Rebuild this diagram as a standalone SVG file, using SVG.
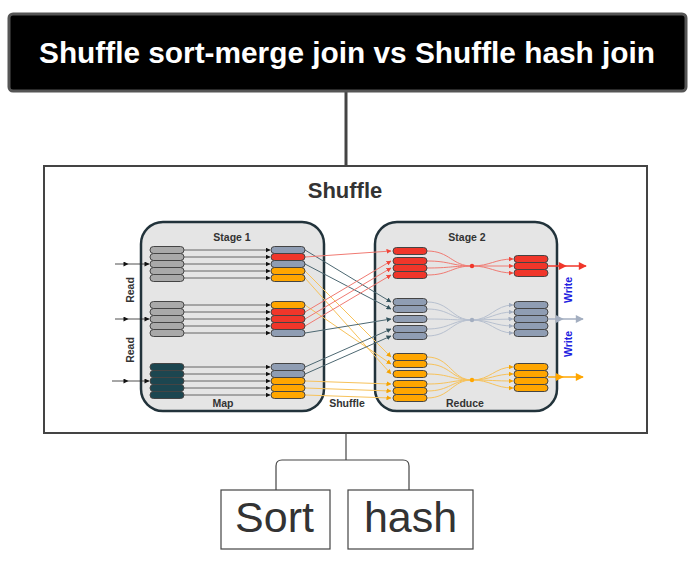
<svg xmlns="http://www.w3.org/2000/svg" width="696" height="562" viewBox="0 0 696 562">
<style>
.t{font-family:"Liberation Sans",Arial,sans-serif}
.b{font-weight:bold}
.pill{stroke:#444;stroke-width:1}
.lg{fill:#a9a9a9}.tl{fill:#1c4650}.gb{fill:#8f9db3}.rd{fill:#f0362a}.or{fill:#ffa600}
.st{fill:#e5e5e5;stroke:#22333b;stroke-width:2.5}
.sm{font-family:"Liberation Sans",Arial,sans-serif;font-weight:bold;font-size:10.5px;fill:#333}
.in{stroke:#444;stroke-width:0.8;fill:none;marker-end:url(#ak)}
.rl{stroke:#f07a72;stroke-width:1;fill:none;marker-end:url(#ar)}
.gl{stroke:#4d6872;stroke-width:1;fill:none;marker-end:url(#ag)}
.ol{stroke:#f7c25a;stroke-width:1;fill:none;marker-end:url(#ao)}
.gl2{stroke:#b7c0cf;stroke-width:1;fill:none;marker-end:url(#ag2)}
.conn{stroke:#444;fill:none}
</style>
<defs>
<marker id="ak" viewBox="0 0 10 10" refX="9" refY="5" markerWidth="5" markerHeight="5" orient="auto" markerUnits="userSpaceOnUse"><path d="M0,0 L10,5 L0,10 z" fill="#111"/></marker>
<marker id="ar" viewBox="0 0 10 10" refX="9" refY="5" markerWidth="5" markerHeight="5" orient="auto" markerUnits="userSpaceOnUse"><path d="M0,0 L10,5 L0,10 z" fill="#f0463a"/></marker>
<marker id="ag" viewBox="0 0 10 10" refX="9" refY="5" markerWidth="5" markerHeight="5" orient="auto" markerUnits="userSpaceOnUse"><path d="M0,0 L10,5 L0,10 z" fill="#33525c"/></marker>
<marker id="ag2" viewBox="0 0 10 10" refX="9" refY="5" markerWidth="5" markerHeight="5" orient="auto" markerUnits="userSpaceOnUse"><path d="M0,0 L10,5 L0,10 z" fill="#a3aec0"/></marker>
<marker id="ao" viewBox="0 0 10 10" refX="9" refY="5" markerWidth="5" markerHeight="5" orient="auto" markerUnits="userSpaceOnUse"><path d="M0,0 L10,5 L0,10 z" fill="#f5a300"/></marker>
<marker id="rbig" viewBox="0 0 10 10" refX="9" refY="5" markerWidth="9" markerHeight="8" orient="auto" markerUnits="userSpaceOnUse"><path d="M0,0 L10,5 L0,10 z" fill="#f0362a"/></marker>
<marker id="gbig" viewBox="0 0 10 10" refX="9" refY="5" markerWidth="9" markerHeight="8" orient="auto" markerUnits="userSpaceOnUse"><path d="M0,0 L10,5 L0,10 z" fill="#a3aec0"/></marker>
<marker id="obig" viewBox="0 0 10 10" refX="9" refY="5" markerWidth="9" markerHeight="8" orient="auto" markerUnits="userSpaceOnUse"><path d="M0,0 L10,5 L0,10 z" fill="#ffa600"/></marker>
<marker id="kbig" viewBox="0 0 10 10" refX="9" refY="5" markerWidth="7" markerHeight="5" orient="auto" markerUnits="userSpaceOnUse"><path d="M0,0 L10,5 L0,10 z" fill="#111"/></marker>
</defs>

<g id="connectors">
<line class="conn" x1="346" y1="91" x2="346" y2="166" stroke-width="3"/>
<line class="conn" x1="346" y1="433" x2="346" y2="460" stroke-width="1.2"/>
<path class="conn" stroke-width="1.2" d="M276,490 V466 Q276,460 282,460 H403 Q409,460 409,466 V490"/>
</g>

<g id="title">
<rect x="9" y="14" width="677" height="77" rx="4" fill="#000" stroke="#555" stroke-width="3"/>
<text class="t b" x="347" y="63" font-size="29.5" fill="#fff" text-anchor="middle" textLength="616" lengthAdjust="spacingAndGlyphs">Shuffle sort-merge join vs Shuffle hash join</text>
</g>

<g id="shuffle">
<rect x="44" y="166" width="603" height="267" fill="#fff" stroke="#444" stroke-width="2"/>
<text class="t b" x="345" y="198" font-size="22" fill="#333" text-anchor="middle">Shuffle</text>

<rect class="st" x="141" y="222" width="183" height="189" rx="22"/>
<rect class="st" x="375" y="222" width="182" height="189" rx="22"/>
<text class="sm" x="232" y="241" text-anchor="middle">Stage 1</text>
<text class="sm" x="467" y="241" text-anchor="middle">Stage 2</text>
<text class="sm" x="223" y="407" text-anchor="middle" font-size="11">Map</text>
<text class="sm" x="347" y="407" text-anchor="middle" font-size="11">Shuffle</text>
<text class="sm" x="465" y="407" text-anchor="middle" font-size="11">Reduce</text>
<text class="sm" transform="translate(134,290) rotate(-90)" text-anchor="middle">Read</text>
<text class="sm" transform="translate(134,350) rotate(-90)" text-anchor="middle">Read</text>
<text class="sm" transform="translate(572,290) rotate(-90)" text-anchor="middle" style="fill:#2020e0">Write</text>
<text class="sm" transform="translate(572,344) rotate(-90)" text-anchor="middle" style="fill:#2020e0">Write</text>

<!-- input arrows -->
<path d="M115,264 L128,264 L149,264" stroke="#222" stroke-width="0.8" fill="none" marker-mid="url(#kbig)" marker-end="url(#kbig)"/>
<path d="M115,319 L128,319 L149,319" stroke="#222" stroke-width="0.8" fill="none" marker-mid="url(#kbig)" marker-end="url(#kbig)"/>
<path d="M112,381 L128,381 L149,381" stroke="#222" stroke-width="0.8" fill="none" marker-mid="url(#kbig)" marker-end="url(#kbig)"/>

<!-- stage 1 map arrows -->
<g>
<line class="in" x1="184" y1="250" x2="270" y2="250"/><line class="in" x1="184" y1="257" x2="270" y2="257"/><line class="in" x1="184" y1="264" x2="270" y2="264"/><line class="in" x1="184" y1="271" x2="270" y2="271"/><line class="in" x1="184" y1="278" x2="270" y2="278"/>
<line class="in" x1="184" y1="305" x2="270" y2="305"/><line class="in" x1="184" y1="312" x2="270" y2="312"/><line class="in" x1="184" y1="319" x2="270" y2="319"/><line class="in" x1="184" y1="326" x2="270" y2="326"/><line class="in" x1="184" y1="333" x2="270" y2="333"/>
<line class="in" x1="184" y1="367" x2="270" y2="367"/><line class="in" x1="184" y1="374" x2="270" y2="374"/><line class="in" x1="184" y1="381" x2="270" y2="381"/><line class="in" x1="184" y1="388" x2="270" y2="388"/><line class="in" x1="184" y1="395" x2="270" y2="395"/>
</g>

<!-- stage 1 left pills -->
<g class="pill">
<rect class="lg" x="150" y="246.5" width="34" height="7" rx="3.5"/><rect class="lg" x="150" y="253.5" width="34" height="7" rx="3.5"/><rect class="lg" x="150" y="260.5" width="34" height="7" rx="3.5"/><rect class="lg" x="150" y="267.5" width="34" height="7" rx="3.5"/><rect class="lg" x="150" y="274.5" width="34" height="7" rx="3.5"/>
<rect class="lg" x="150" y="301.5" width="34" height="7" rx="3.5"/><rect class="lg" x="150" y="308.5" width="34" height="7" rx="3.5"/><rect class="lg" x="150" y="315.5" width="34" height="7" rx="3.5"/><rect class="lg" x="150" y="322.5" width="34" height="7" rx="3.5"/><rect class="lg" x="150" y="329.5" width="34" height="7" rx="3.5"/>
<rect class="tl" x="150" y="363.5" width="34" height="7" rx="3.5"/><rect class="tl" x="150" y="370.5" width="34" height="7" rx="3.5"/><rect class="tl" x="150" y="377.5" width="34" height="7" rx="3.5"/><rect class="tl" x="150" y="384.5" width="34" height="7" rx="3.5"/><rect class="tl" x="150" y="391.5" width="34" height="7" rx="3.5"/>
</g>

<!-- shuffle lines -->
<g>
<line class="gl" x1="305" y1="250" x2="391" y2="302"/>
<line class="rl" x1="305" y1="257" x2="391" y2="251"/>
<line class="gl" x1="305" y1="264" x2="391" y2="309"/>
<line class="ol" x1="305" y1="271" x2="391" y2="357"/>
<line class="ol" x1="305" y1="278" x2="391" y2="374"/>
<line class="ol" x1="305" y1="305" x2="391" y2="364"/>
<line class="rl" x1="305" y1="312" x2="391" y2="261"/>
<line class="rl" x1="305" y1="319" x2="391" y2="268"/>
<line class="rl" x1="305" y1="326" x2="391" y2="275"/>
<line class="gl" x1="305" y1="333" x2="391" y2="319"/>
<line class="gl" x1="305" y1="367" x2="391" y2="329"/>
<line class="gl" x1="305" y1="374" x2="391" y2="336"/>
<line class="ol" x1="305" y1="381" x2="391" y2="384"/>
<line class="ol" x1="305" y1="388" x2="391" y2="391"/>
<line class="ol" x1="305" y1="395" x2="391" y2="398"/>
</g>

<!-- stage 1 right pills -->
<g class="pill">
<rect class="gb" x="271" y="246.5" width="34" height="7" rx="3.5"/><rect class="rd" x="271" y="253.5" width="34" height="7" rx="3.5"/><rect class="gb" x="271" y="260.5" width="34" height="7" rx="3.5"/><rect class="or" x="271" y="267.5" width="34" height="7" rx="3.5"/><rect class="or" x="271" y="274.5" width="34" height="7" rx="3.5"/>
<rect class="or" x="271" y="301.5" width="34" height="7" rx="3.5"/><rect class="rd" x="271" y="308.5" width="34" height="7" rx="3.5"/><rect class="rd" x="271" y="315.5" width="34" height="7" rx="3.5"/><rect class="rd" x="271" y="322.5" width="34" height="7" rx="3.5"/><rect class="gb" x="271" y="329.5" width="34" height="7" rx="3.5"/>
<rect class="gb" x="271" y="363.5" width="34" height="7" rx="3.5"/><rect class="gb" x="271" y="370.5" width="34" height="7" rx="3.5"/><rect class="or" x="271" y="377.5" width="34" height="7" rx="3.5"/><rect class="or" x="271" y="384.5" width="34" height="7" rx="3.5"/><rect class="or" x="271" y="391.5" width="34" height="7" rx="3.5"/>
</g>

<!-- reduce merge curves -->
<g>
<path d="M427,251 C450,251 452,266 472,266" stroke="#f07a72" fill="none"/>
<path d="M427,261 C450,261 452,266 472,266" stroke="#f07a72" fill="none"/>
<path d="M427,268 C450,268 452,266 472,266" stroke="#f07a72" fill="none"/>
<path d="M427,275 C450,275 452,266 472,266" stroke="#f07a72" fill="none"/>
<path class="rl" d="M472,266 C490,266 495,259 513,259"/>
<path class="rl" d="M472,266 L513,266"/>
<path class="rl" d="M472,266 C490,266 495,273 513,273"/>
<circle cx="472" cy="266" r="2.2" fill="#f0362a"/>

<path d="M427,302 C450,302 452,320 472,320" stroke="#b7c0cf" fill="none"/>
<path d="M427,309 C450,309 452,320 472,320" stroke="#b7c0cf" fill="none"/>
<path d="M427,319 C450,319 452,320 472,320" stroke="#b7c0cf" fill="none"/>
<path d="M427,329 C450,329 452,320 472,320" stroke="#b7c0cf" fill="none"/>
<path d="M427,336 C450,336 452,320 472,320" stroke="#b7c0cf" fill="none"/>
<path class="gl2" d="M472,320 C490,320 495,305 513,305"/>
<path class="gl2" d="M472,320 C490,320 495,312 513,312"/>
<path class="gl2" d="M472,320 L513,319"/>
<path class="gl2" d="M472,320 C490,320 495,326 513,326"/>
<path class="gl2" d="M472,320 C490,320 495,333 513,333"/>
<circle cx="472" cy="320" r="2.2" fill="#a3aec0"/>

<path d="M427,357 C450,357 452,380 472,380" stroke="#f7c25a" fill="none"/>
<path d="M427,364 C450,364 452,380 472,380" stroke="#f7c25a" fill="none"/>
<path d="M427,374 C450,374 452,380 472,380" stroke="#f7c25a" fill="none"/>
<path d="M427,384 C450,384 452,380 472,380" stroke="#f7c25a" fill="none"/>
<path d="M427,391 C450,391 452,380 472,380" stroke="#f7c25a" fill="none"/>
<path d="M427,398 C450,398 452,380 472,380" stroke="#f7c25a" fill="none"/>
<path class="ol" d="M472,380 C490,380 495,367 513,367"/>
<path class="ol" d="M472,380 C490,380 495,374 513,374"/>
<path class="ol" d="M472,380 C490,380 495,381 513,381"/>
<path class="ol" d="M472,380 C490,380 495,388 513,388"/>
<circle cx="472" cy="380" r="2.2" fill="#ffa600"/>
</g>

<!-- stage 2 input pills -->
<g class="pill">
<rect class="rd" x="393" y="247.5" width="34" height="7" rx="3.5"/>
<rect class="rd" x="393" y="257.5" width="34" height="7" rx="3.5"/><rect class="rd" x="393" y="264.5" width="34" height="7" rx="3.5"/><rect class="rd" x="393" y="271.5" width="34" height="7" rx="3.5"/>
<rect class="gb" x="393" y="298.5" width="34" height="7" rx="3.5"/><rect class="gb" x="393" y="305.5" width="34" height="7" rx="3.5"/>
<rect class="gb" x="393" y="315.5" width="34" height="7" rx="3.5"/>
<rect class="gb" x="393" y="325.5" width="34" height="7" rx="3.5"/><rect class="gb" x="393" y="332.5" width="34" height="7" rx="3.5"/>
<rect class="or" x="393" y="353.5" width="34" height="7" rx="3.5"/><rect class="or" x="393" y="360.5" width="34" height="7" rx="3.5"/>
<rect class="or" x="393" y="370.5" width="34" height="7" rx="3.5"/>
<rect class="or" x="393" y="380.5" width="34" height="7" rx="3.5"/><rect class="or" x="393" y="387.5" width="34" height="7" rx="3.5"/><rect class="or" x="393" y="394.5" width="34" height="7" rx="3.5"/>
</g>

<!-- stage 2 output pills -->
<g class="pill">
<rect class="rd" x="514" y="255.5" width="34" height="7" rx="3.5"/><rect class="rd" x="514" y="262.5" width="34" height="7" rx="3.5"/><rect class="rd" x="514" y="269.5" width="34" height="7" rx="3.5"/>
<rect class="gb" x="514" y="301.5" width="34" height="7" rx="3.5"/><rect class="gb" x="514" y="308.5" width="34" height="7" rx="3.5"/><rect class="gb" x="514" y="315.5" width="34" height="7" rx="3.5"/><rect class="gb" x="514" y="322.5" width="34" height="7" rx="3.5"/><rect class="gb" x="514" y="329.5" width="34" height="7" rx="3.5"/>
<rect class="or" x="514" y="363.5" width="34" height="7" rx="3.5"/><rect class="or" x="514" y="370.5" width="34" height="7" rx="3.5"/><rect class="or" x="514" y="377.5" width="34" height="7" rx="3.5"/><rect class="or" x="514" y="384.5" width="34" height="7" rx="3.5"/>
</g>

<!-- output arrows -->
<path d="M548,266 L566,266 L586,266" stroke="#f0362a" stroke-width="1.5" fill="none" marker-mid="url(#rbig)" marker-end="url(#rbig)"/>
<path d="M548,319 L563,319 L583,319" stroke="#a3aec0" stroke-width="1.5" fill="none" marker-mid="url(#gbig)" marker-end="url(#gbig)"/>
<path d="M548,377 L563,377 L583,377" stroke="#ffa600" stroke-width="1.5" fill="none" marker-mid="url(#obig)" marker-end="url(#obig)"/>
</g>

<g id="sort">
<rect x="221" y="490" width="109" height="59" fill="#fff" stroke="#444" stroke-width="1.2"/>
<text class="t" x="274.5" y="532" font-size="43" fill="#333" text-anchor="middle">Sort</text>
</g>
<g id="hash">
<rect x="348" y="490" width="125" height="59" fill="#fff" stroke="#444" stroke-width="1.2"/>
<text class="t" x="410.5" y="532" font-size="43" fill="#333" text-anchor="middle">hash</text>
</g>
</svg>
